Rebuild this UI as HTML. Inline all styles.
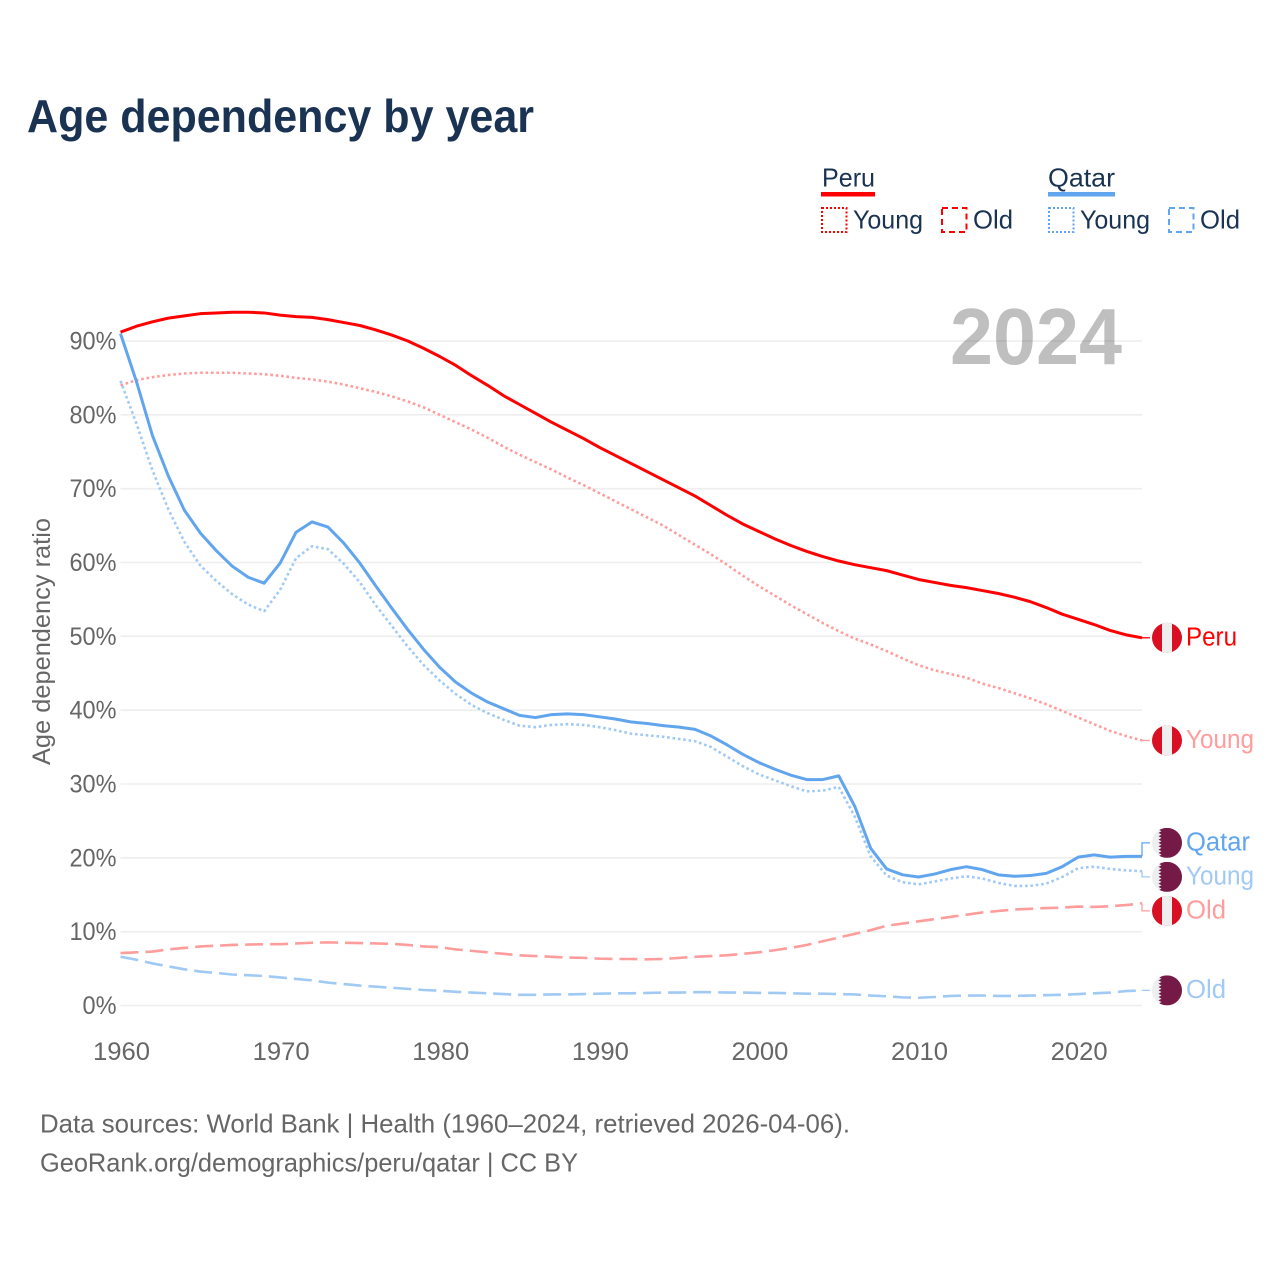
<!DOCTYPE html>
<html lang="en">
<head>
<meta charset="utf-8">
<title>Age dependency by year</title>
<style>
html,body{margin:0;padding:0;background:#fff;width:1280px;height:1280px;overflow:hidden}
svg{display:block;font-family:"Liberation Sans",sans-serif}
</style>
</head>
<body>
<svg id="chart" xmlns="http://www.w3.org/2000/svg" width="1280" height="1280" viewBox="0 0 1280 1280">
  <defs>
    <clipPath id="flag-clip"><circle cx="0" cy="0" r="15"></circle></clipPath>
  </defs>
  <rect x="0" y="0" width="1280" height="1280" fill="#fff"></rect>
  <text x="27" y="132" font-size="46" font-weight="700" fill="#1a3352" textLength="507" lengthAdjust="spacingAndGlyphs">Age dependency by year</text>

  <g font-size="26" fill="#1a3352">
    <text x="822" y="186.5" textLength="53" lengthAdjust="spacingAndGlyphs">Peru</text>
    <rect x="821" y="192" width="54" height="4.5" fill="#ff0000"></rect>
    <rect x="822" y="208" width="24.5" height="24" fill="none" stroke="#ff0000" stroke-width="2" stroke-dasharray="2 2"></rect>
    <text x="853" y="228.5" textLength="70" lengthAdjust="spacingAndGlyphs">Young</text>
    <rect x="942" y="208" width="24.5" height="24" fill="none" stroke="#ff0000" stroke-width="2" stroke-dasharray="6 4"></rect>
    <text x="973" y="228.5" textLength="40" lengthAdjust="spacingAndGlyphs">Old</text>
    <text x="1048" y="186.5" textLength="67" lengthAdjust="spacingAndGlyphs">Qatar</text>
    <rect x="1048" y="192" width="67" height="4.5" fill="#60a5ee"></rect>
    <rect x="1049" y="208" width="24.5" height="24" fill="none" stroke="#60a5ee" stroke-width="2" stroke-dasharray="2 2"></rect>
    <text x="1080" y="228.5" textLength="70" lengthAdjust="spacingAndGlyphs">Young</text>
    <rect x="1169" y="208" width="24.5" height="24" fill="none" stroke="#60a5ee" stroke-width="2" stroke-dasharray="6 4"></rect>
    <text x="1200" y="228.5" textLength="40" lengthAdjust="spacingAndGlyphs">Old</text>
  </g>

  <g id="grid"></g>
  <g id="yticks"></g>
  <g id="xticks"></g>
  <text transform="translate(50,641.5) rotate(-90)" text-anchor="middle" font-size="25" fill="#666" textLength="247" lengthAdjust="spacingAndGlyphs">Age dependency ratio</text>
  <text x="950" y="364" font-size="80" font-weight="700" fill="#000" fill-opacity="0.25" textLength="172" lengthAdjust="spacingAndGlyphs">2024</text>
  <g id="series"></g>
  <g id="endlabels"></g>

  <text x="40" y="1132.5" font-size="26" fill="#666" textLength="810" lengthAdjust="spacingAndGlyphs">Data sources: World Bank | Health (1960–2024, retrieved 2026-04-06).</text>
  <text x="40" y="1171.5" font-size="26" fill="#666" textLength="538" lengthAdjust="spacingAndGlyphs">GeoRank.org/demographics/peru/qatar | CC BY</text>
</svg>
<script>
const firstYear = 1960;
const lastYear = 2024;
const xTickYears = [1960, 1970, 1980, 1990, 2000, 2010, 2020];
const yTickValues = [0, 10, 20, 30, 40, 50, 60, 70, 80, 90];

const peruTotal = [91.2,92.0,92.6,93.1,93.4,93.7,93.8,93.9,93.9,93.8,93.5,93.3,93.2,92.9,92.5,92.1,91.5,90.8,90.0,89.0,87.9,86.7,85.3,84.0,82.6,81.4,80.2,79.0,77.9,76.8,75.6,74.5,73.4,72.3,71.2,70.1,69.0,67.7,66.4,65.2,64.2,63.2,62.3,61.5,60.8,60.2,59.7,59.3,58.9,58.3,57.7,57.3,56.9,56.6,56.2,55.8,55.3,54.7,53.9,53.0,52.3,51.6,50.8,50.2,49.8];
const peruYoung = [84.0,84.7,85.1,85.4,85.6,85.7,85.7,85.7,85.6,85.5,85.3,85.0,84.8,84.5,84.1,83.6,83.1,82.5,81.8,81.0,80.0,79.0,78.0,76.9,75.7,74.6,73.6,72.6,71.5,70.5,69.4,68.3,67.2,66.1,65.0,63.7,62.4,61.1,59.7,58.2,56.8,55.5,54.2,53.0,51.8,50.7,49.7,48.9,48.0,47.0,46.1,45.4,44.9,44.4,43.6,43.0,42.3,41.6,40.8,39.9,39.0,38.1,37.2,36.5,35.9];
const peruOld = [7.1,7.2,7.3,7.6,7.8,8.0,8.1,8.2,8.25,8.3,8.3,8.4,8.5,8.55,8.5,8.45,8.4,8.35,8.2,8.0,7.9,7.6,7.4,7.2,7.0,6.8,6.7,6.6,6.5,6.45,6.35,6.3,6.3,6.25,6.3,6.45,6.6,6.7,6.8,7.0,7.2,7.5,7.8,8.2,8.7,9.2,9.7,10.2,10.8,11.1,11.4,11.7,12.0,12.3,12.6,12.8,13.0,13.1,13.2,13.25,13.4,13.35,13.45,13.6,13.85];
const qatarTotal = [91.0,84.5,77.2,71.7,67.1,64.0,61.6,59.5,58.0,57.2,59.9,64.1,65.5,64.8,62.6,59.9,56.8,53.8,50.9,48.2,45.8,43.8,42.3,41.1,40.2,39.3,39.0,39.4,39.5,39.4,39.1,38.8,38.4,38.2,37.9,37.7,37.4,36.5,35.3,34.0,32.9,32.0,31.2,30.6,30.6,31.1,27.0,21.3,18.5,17.7,17.4,17.8,18.4,18.8,18.4,17.7,17.5,17.6,17.9,18.8,20.1,20.4,20.1,20.2,20.2];
const qatarYoung = [84.6,78.8,72.5,67.2,62.8,59.6,57.5,55.7,54.3,53.4,56.3,60.6,62.2,61.8,59.8,57.3,54.2,51.4,48.6,46.1,44.0,42.2,40.7,39.6,38.7,37.9,37.7,38.0,38.1,38.0,37.7,37.3,36.8,36.6,36.4,36.1,35.8,35.0,33.7,32.4,31.3,30.5,29.7,29.0,29.1,29.6,25.6,20.2,17.6,16.7,16.4,16.8,17.2,17.5,17.2,16.6,16.2,16.2,16.5,17.4,18.6,18.8,18.5,18.3,18.2];
const qatarOld = [6.6,6.2,5.7,5.3,4.9,4.6,4.4,4.2,4.1,4.0,3.8,3.6,3.4,3.1,2.9,2.7,2.55,2.4,2.25,2.1,2.0,1.85,1.75,1.65,1.55,1.45,1.45,1.5,1.5,1.55,1.6,1.65,1.65,1.7,1.75,1.75,1.8,1.8,1.75,1.75,1.7,1.7,1.65,1.6,1.6,1.55,1.5,1.35,1.25,1.1,1.05,1.15,1.3,1.35,1.35,1.3,1.3,1.35,1.4,1.45,1.55,1.65,1.75,1.95,2.05];

const NS = 'http://www.w3.org/2000/svg';
const xLeft = 120.5, xRight = 1142, yZero = 1005.5, yNinety = 341;
function xScale(year) { return xLeft + (year - firstYear) * (xRight - xLeft) / (lastYear - firstYear); }
function yScale(v) { return yZero - v * (yZero - yNinety) / 90; }
function make(tag, attrs, parent) {
  const el = document.createElementNS(NS, tag);
  for (const k in attrs) el.setAttribute(k, attrs[k]);
  parent.appendChild(el);
  return el;
}

const gridG = document.getElementById('grid');
const yG = document.getElementById('yticks');
const xG = document.getElementById('xticks');
yTickValues.forEach(function (v) {
  const line = make('line', {x1: xLeft, x2: xRight, y1: yScale(v), y2: yScale(v), stroke: '#eeeeee', 'stroke-width': 1.6}, gridG);
  
  
  const t = make('text', {x: 116.5, y: yScale(v) + 8.5, 'text-anchor': 'end', 'font-size': 25, fill: '#666', textLength: v === 0 ? 34 : 47, lengthAdjust: 'spacingAndGlyphs'}, yG);
  
  
  t.textContent = v + '%';
});
xTickYears.forEach(function (yr) {
  const t = make('text', {x: xScale(yr) + 1, y: 1060, 'text-anchor': 'middle', 'font-size': 25, fill: '#666', textLength: 57, lengthAdjust: 'spacingAndGlyphs'}, xG);
  
  
  t.textContent = yr;
});

const RED = '#ff0000', RED_L = '#ff9c9c', BLUE = '#60a5ee', BLUE_L = '#a0c9f4';
const DOT = '2.6 2.8', DASH = '18 7';
const seriesList = [
  {key: 'peru-old', label: 'Old', flag: 'peru', values: peruOld, color: RED_L, dash: DASH, w: 2.6},
  {key: 'qatar-old', label: 'Old', flag: 'qatar', values: qatarOld, color: BLUE_L, dash: DASH, w: 2.6},
  {key: 'peru-young', label: 'Young', flag: 'peru', values: peruYoung, color: RED_L, dash: DOT, w: 2.6},
  {key: 'qatar-young', label: 'Young', flag: 'qatar', values: qatarYoung, color: BLUE_L, dash: DOT, w: 2.6},
  {key: 'qatar-total', label: 'Qatar', flag: 'qatar', values: qatarTotal, color: BLUE, dash: null, w: 3},
  {key: 'peru-total', label: 'Peru', flag: 'peru', values: peruTotal, color: RED, dash: null, w: 3}
];

const seriesG = document.getElementById('series');
seriesList.forEach(function (s) {
  const d = s.values.map(function (v, i) {
    return (i ? 'L' : 'M') + xScale(firstYear + i).toFixed(2) + ' ' + yScale(v).toFixed(2);
  }).join(' ');
  const attrs = {d: d, fill: 'none', stroke: s.color, 'stroke-width': s.w, 'stroke-linejoin': 'round'};
  if (s.dash) attrs['stroke-dasharray'] = s.dash;
  const p = make('path', attrs, seriesG);
  
  
});

/* end-label placement: keep 34px between labels, centring colliding clusters */
const GAP = 34;
const placed = seriesList.map(function (s) {
  return {s: s, y0: yScale(s.values[s.values.length - 1])};
}).sort(function (a, b) { return a.y0 - b.y0; });
let clusters = placed.map(function (p) { return {items: [p], mean: p.y0}; });
let merged = true;
while (merged) {
  merged = false;
  for (let i = 0; i < clusters.length - 1; i++) {
    const a = clusters[i], b = clusters[i + 1];
    const aEnd = a.mean + (a.items.length - 1) * GAP / 2;
    const bStart = b.mean - (b.items.length - 1) * GAP / 2;
    if (bStart - aEnd < GAP) {
      const items = a.items.concat(b.items);
      const mean = items.reduce(function (t, p) { return t + p.y0; }, 0) / items.length;
      clusters.splice(i, 2, {items: items, mean: mean});
      merged = true;
      break;
    }
  }
}
clusters.forEach(function (c) {
  c.items.forEach(function (p, i) {
    p.y = c.mean + (i - (c.items.length - 1) / 2) * GAP;
  });
});

const labelWidths = {Peru: 51, Qatar: 64, Young: 68, Old: 40};
const labelG = document.getElementById('endlabels');
placed.forEach(function (p) {
  const s = p.s;
  const g = make('g', {}, labelG);
  
  
  const conn = make('path', {d: 'M' + xRight + ' ' + p.y0.toFixed(2) + ' V' + p.y.toFixed(2) + ' H1150', fill: 'none', stroke: s.color, 'stroke-width': 1.3}, g);
  
  
  const f = make('g', {transform: 'translate(1167,' + p.y.toFixed(2) + ')', 'clip-path': 'url(#flag-clip)'}, g);
  
  
  if (s.flag === 'peru') {
    make('rect', {x: -15, y: -15, width: 30, height: 30, fill: '#d91023'}, f);
    make('rect', {x: -5, y: -15, width: 10, height: 30, fill: '#eeeeee'}, f);
  } else {
    make('rect', {x: -15, y: -15, width: 30, height: 30, fill: '#eeeeee'}, f);
    let pts = '15,-15 -5.5,-15';
    for (let i = 0; i < 9; i++) {
      const top = -15 + i * 30 / 9;
      pts += ' -8.5,' + (top + 30 / 18).toFixed(2) + ' -5.5,' + (top + 30 / 9).toFixed(2);
    }
    pts += ' 15,15';
    make('polygon', {points: pts, fill: '#751a46'}, f);
  }
  const t = make('text', {x: 1186, y: (p.y + 7.5).toFixed(2), 'font-size': 25.5, fill: s.color, textLength: labelWidths[s.label], lengthAdjust: 'spacingAndGlyphs'}, g);
  
  
  t.textContent = s.label;
});
</script>
</body>
</html>
